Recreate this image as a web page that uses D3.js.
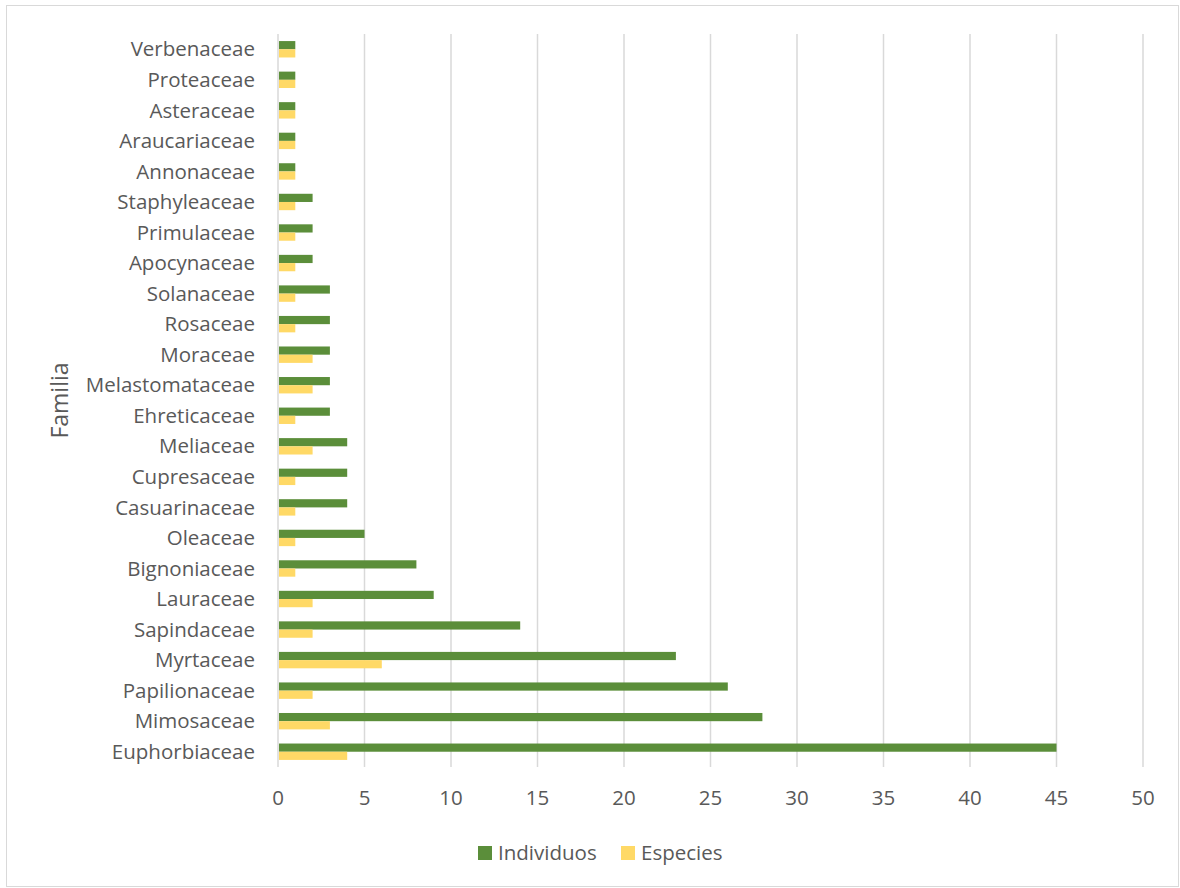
<!DOCTYPE html>
<html>
<head>
<meta charset="utf-8">
<script src="https://cdn.jsdelivr.net/npm/d3@7"></script>
<style>
  html, body { margin: 0; padding: 0; background: #fff; }
  svg { display: block; }
  text { font-family: "Open Sans", "Liberation Sans", sans-serif; fill: #595959; }
</style>
</head>
<body>
<svg id="chart" width="1180" height="888"></svg>
<script>
// Plant families, listed bottom to top as drawn
const familias = ["Euphorbiaceae", "Mimosaceae", "Papilionaceae", "Myrtaceae", "Sapindaceae",
  "Lauraceae", "Bignoniaceae", "Oleaceae", "Casuarinaceae", "Cupresaceae", "Meliaceae",
  "Ehreticaceae", "Melastomataceae", "Moraceae", "Rosaceae", "Solanaceae", "Apocynaceae",
  "Primulaceae", "Staphyleaceae", "Annonaceae", "Araucariaceae", "Asteraceae", "Proteaceae",
  "Verbenaceae"];
const individuos = [45, 28, 26, 23, 14, 9, 8, 5, 4, 4, 4, 3, 3, 3, 3, 3, 2, 2, 2, 1, 1, 1, 1, 1];
const especies   = [4, 3, 2, 6, 2, 2, 1, 1, 1, 1, 2, 1, 2, 2, 1, 1, 1, 1, 1, 1, 1, 1, 1, 1];
const seriesNames = ["Individuos", "Especies"];
const seriesColors = ["#5B8E3A", "#FFD966"];
const xTicks = [0, 5, 10, 15, 20, 25, 30, 35, 40, 45, 50];

const svg = d3.select("#chart");

// outer chart frame
svg.append("rect")
  .attr("x", 6.5).attr("y", 5.5).attr("width", 1172).attr("height", 881)
  .attr("fill", "#fff").attr("stroke", "#d9d9d9").attr("stroke-width", 1);

const plot = { left: 278, right: 1143, top: 34, bottom: 767 };

const x = d3.scaleLinear().domain([0, 50]).range([plot.left, plot.right]);
const y = d3.scaleBand()
  .domain(familias.slice().reverse())
  .range([plot.top, plot.bottom]);
const barH = 8.2;

// vertical gridlines
svg.append("g")
  .selectAll("line")
  .data(xTicks)
  .join("line")
  .attr("x1", d => x(d)).attr("x2", d => x(d))
  .attr("y1", plot.top).attr("y2", plot.bottom)
  .attr("stroke", "#d9d9d9").attr("stroke-width", 1.5);

// bars: one group per family, Individuos above Especies
const data = familias.map((f, i) => ({ f, vals: [individuos[i], especies[i]] }));
const groups = svg.append("g")
  .selectAll("g")
  .data(data)
  .join("g")
  .attr("transform", d => `translate(0,${y(d.f) + y.bandwidth() / 2})`);

groups.selectAll("rect")
  .data(d => d.vals.map((v, k) => ({ v, k })))
  .join("rect")
  .attr("x", x(0) + 1)
  .attr("y", d => d.k === 0 ? -barH : 0)
  .attr("width", d => x(d.v) - x(0) - 1)
  .attr("height", barH)
  .attr("fill", d => seriesColors[d.k]);

// x axis tick labels
svg.append("g")
  .selectAll("text")
  .data(xTicks)
  .join("text")
  .attr("x", d => x(d))
  .attr("y", 798)
  .attr("dy", "0.35em")
  .attr("text-anchor", "middle")
  .attr("font-size", 20.5)
  .text(d => d);

// category labels
svg.append("g")
  .selectAll("text")
  .data(familias)
  .join("text")
  .attr("x", 255)
  .attr("y", d => y(d) + y.bandwidth() / 2)
  .attr("dy", "0.35em")
  .attr("text-anchor", "end")
  .attr("font-size", 20.5)
  .text(d => d);

// axis title
svg.append("text")
  .attr("transform", `translate(68,${(plot.top + plot.bottom) / 2}) rotate(-90)`)
  .attr("text-anchor", "middle")
  .attr("font-size", 23)
  .text("Familia");

// legend
const legend = svg.append("g").attr("transform", "translate(478,853)");
const legendX = [0, 143];
seriesNames.forEach((name, k) => {
  const g = legend.append("g").attr("transform", `translate(${legendX[k]},0)`);
  g.append("rect").attr("x", 0).attr("y", -7).attr("width", 14).attr("height", 14)
    .attr("fill", seriesColors[k]);
  g.append("text").attr("x", 20).attr("y", 0).attr("dy", "0.35em")
    .attr("font-size", 20.5).text(name);
});
</script>
</body>
</html>
